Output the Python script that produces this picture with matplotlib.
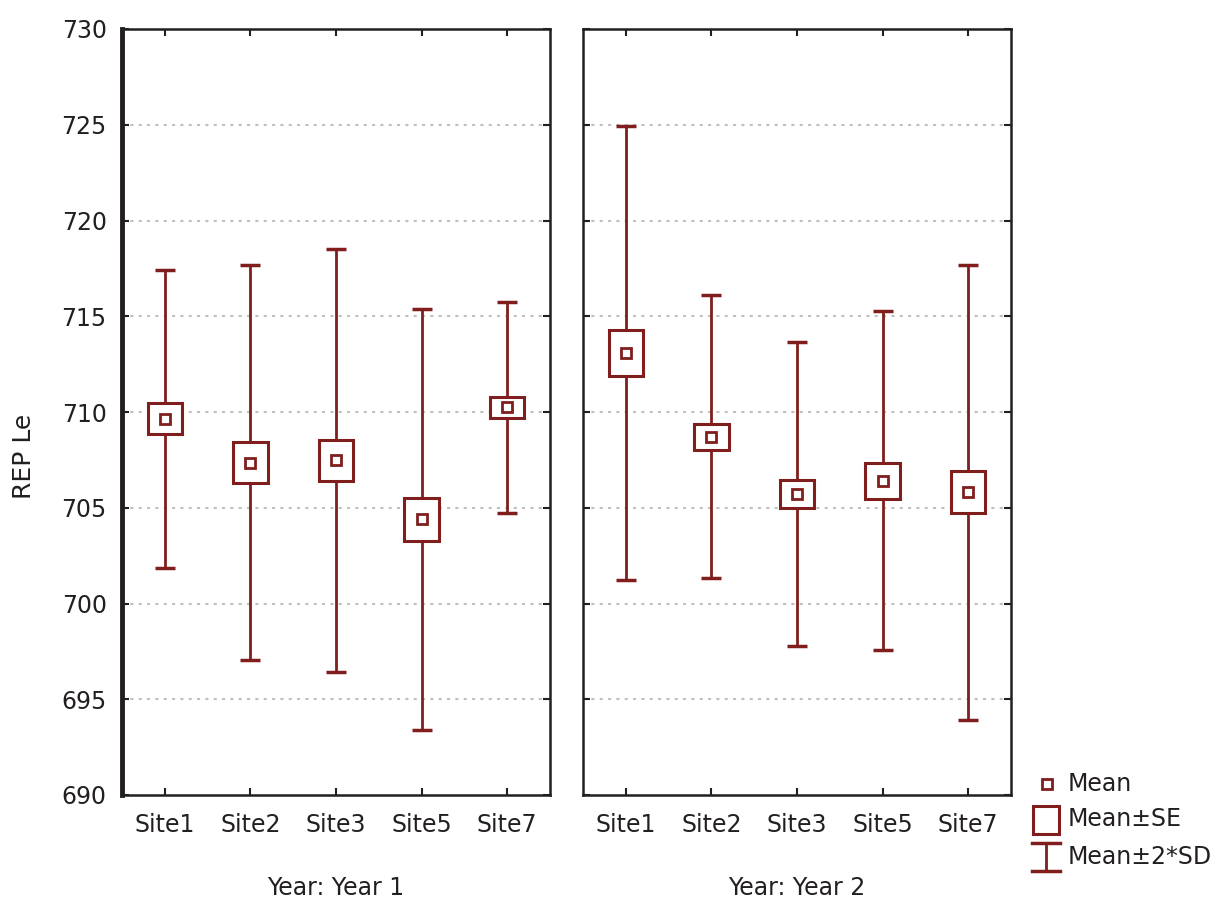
import matplotlib
matplotlib.use("Agg")
import matplotlib.pyplot as plt
import numpy as np

sites = ["Site1", "Site2", "Site3", "Site5", "Site7"]
years = ["Year: Year 1", "Year: Year 2"]
# mean, standard error, 2*SD for each year
mean_y1 = [709.65, 707.35, 707.47, 704.40, 710.24]
se_y1 = [0.80, 1.07, 1.07, 1.12, 0.55]
sd2_y1 = [7.78, 10.32, 11.05, 10.98, 5.51]
mean_y2 = [713.08, 708.70, 705.72, 706.40, 705.80]
se_y2 = [1.20, 0.68, 0.73, 0.94, 1.10]
sd2_y2 = [11.83, 7.39, 7.94, 8.85, 11.88]
yticks = [690, 695, 700, 705, 710, 715, 720, 725, 730]

RED = "#801e1e"
DARK = "#231f20"
FONT = ["DejaVu Sans"]
plt.rcParams['font.family'] = FONT
FS = 17

fig = plt.figure(figsize=(12.2, 8.99), dpi=100)
W, H = 1220, 899
def ax_rect(x0, x1, y0, y1):
    return [x0 / W, 1 - y1 / H, (x1 - x0) / W, (y1 - y0) / H]

axes = [fig.add_axes(ax_rect(122, 550, 29, 795)),
        fig.add_axes(ax_rect(583, 1011, 29, 795))]

data = [(mean_y1, se_y1, sd2_y1), (mean_y2, se_y2, sd2_y2)]
for i, (ax, (m, se, sd2)) in enumerate(zip(axes, data)):
    x = np.arange(len(sites))
    m = np.array(m); se = np.array(se); sd2 = np.array(sd2)
    ax.errorbar(x, m, yerr=sd2, fmt='none', ecolor=RED, elinewidth=2,
                capsize=7.5, capthick=2.5, zorder=2)
    ax.bar(x, 2 * se, bottom=m - se, width=0.4, facecolor='white',
           edgecolor=RED, linewidth=2.2, zorder=3)
    ax.plot(x, m, linestyle='none', marker='s', markersize=7,
            markerfacecolor='white', markeredgecolor=RED, markeredgewidth=2, zorder=4)
    ax.set_xlim(-0.5, len(sites) - 0.5)
    ax.set_ylim(690, 730)
    ax.set_yticks(yticks)
    ax.set_xticks(x)
    ax.set_xticklabels(sites, fontsize=FS, color=DARK)
    for y in yticks[1:-1]:
        ax.axhline(y, color="#c0c0c0", linestyle=(0, (1.5, 2.5)), linewidth=1.5, zorder=1)
    ax.tick_params(axis='both', direction='in', length=5, width=1.5, color=DARK,
                   top=True, right=True, labelsize=FS, labelcolor=DARK)
    ax.tick_params(axis='x', pad=13)
    for s in ax.spines.values():
        s.set_color(DARK)
        s.set_linewidth(1.8)
    if i == 0:
        ax.spines['left'].set_linewidth(3.5)
        ax.set_yticklabels([str(v) for v in yticks])
        ax.tick_params(axis='y', pad=11)
    else:
        ax.set_yticklabels([])
    ax.set_xlabel(years[i], fontsize=FS, color=DARK, labelpad=28)

fig.text(24 / W, 1 - 456 / H, "REP Le", rotation=90, fontsize=18, color=DARK,
         ha='center', va='center')

# legend drawn in pixel coordinates
lg = fig.add_axes([0, 0, 1, 1], facecolor='none')
lg.set_xlim(0, W)
lg.set_ylim(H, 0)
lg.axis('off')
lg.plot([1047], [784], marker='s', markersize=7, markerfacecolor='white',
        markeredgecolor=RED, markeredgewidth=2, linestyle='none')
lg.add_patch(plt.Rectangle((1033, 806), 26, 28, fill=False, edgecolor=RED, linewidth=2.2))
lg.plot([1046, 1046], [843, 871], color=RED, linewidth=2)
lg.plot([1032, 1060], [843, 843], color=RED, linewidth=2.5)
lg.plot([1032, 1060], [871, 871], color=RED, linewidth=2.5)
for ty, t in [(784, "Mean"), (819, "Mean±SE"), (857, "Mean±2*SD")]:
    lg.text(1068, ty, t, fontsize=FS, color=DARK, va='center', ha='left')

fig.savefig("out.png", dpi=100)
